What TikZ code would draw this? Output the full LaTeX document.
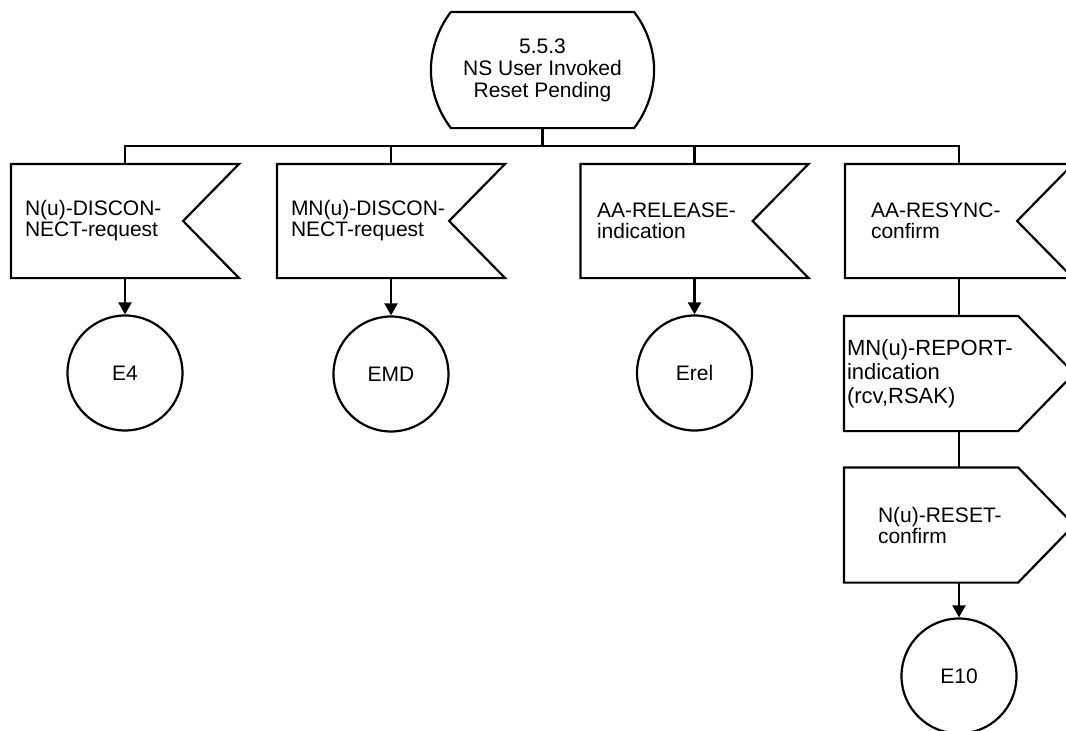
\documentclass[tikz,border=0pt]{standalone}
\usepackage{fontspec}
\setmainfont{Liberation Sans}
\usetikzlibrary{arrows.meta}

\begin{document}
\begin{tikzpicture}[x=1pt, y=-1pt, line width=2.2pt, line join=miter,
  lbl/.style={inner sep=0pt, align=left, anchor=west, font={\fontsize{21}{21}\selectfont}},
  sigbox/.style={inner sep=0pt, minimum width=226pt, minimum height=112pt},
  outbox/.style={inner sep=0pt, minimum width=228pt, minimum height=113pt},
  endstate/.style={circle, draw, inner sep=0pt, minimum size=115pt,
                   font={\fontsize{21}{21}\selectfont}},
  flow/.style={-{Triangle[width=13pt,length=12pt]}}
]
\useasboundingbox (0,0) rectangle (1066,731);
\fill[white] (0,0) rectangle (1066,731);
\clip (0,0) rectangle (1066,731);

% state symbol: straight top and bottom, rounded sides
% (shifts are on the canvas: positive yshift points up)
\node[inner sep=0pt, minimum width=221pt, minimum height=114pt] (st) at (542.5,70) {};
\draw ([xshift=20pt]st.north west) -- ([xshift=-20pt]st.north east)
  .. controls ([xshift=-7pt,yshift=-17pt]st.north east) and ([yshift=20pt]st.east) .. (st.east)
  .. controls ([yshift=-20pt]st.east) and ([xshift=-7pt,yshift=17pt]st.south east) .. ([xshift=-20pt]st.south east)
  -- ([xshift=20pt]st.south west)
  .. controls ([xshift=7pt,yshift=17pt]st.south west) and ([yshift=-20pt]st.west) .. (st.west)
  .. controls ([yshift=20pt]st.west) and ([xshift=7pt,yshift=-17pt]st.north west) .. cycle;
\node[inner sep=0pt, align=center, font={\fontsize{21}{22}\selectfont}] (sttext) at (st.center)
  {5.5.3\\NS User Invoked\\Reset Pending};

% input signals
\node[sigbox] (s1) at (125,221) {};
\node[sigbox] (s2) at (391,221) {};
\node[sigbox] (s3) at (694.5,221) {};
\node[sigbox] (s4) at (959,221) {};
\foreach \s in {s1,s2,s3,s4}{
  \draw (\s.north west) -- (\s.north east) -- ([xshift=-56pt]\s.east)
        -- (\s.south east) -- (\s.south west) -- cycle;
}
\node[lbl] (t1) at ([xshift=13pt]s1.west) {N(u)-DISCON-\\NECT-request};
\node[lbl] (t2) at ([xshift=13pt]s2.west) {MN(u)-DISCON-\\NECT-request};
\node[lbl] (t3) at ([xshift=15.5pt]s3.west) {AA-RELEASE-\\indication};
\node[lbl] (t4) at ([xshift=25pt]s4.west) {AA-RESYNC-\\confirm};

% output signals
\node[outbox] (o1) at (959,373.5) {};
\node[outbox] (o2) at (959,525) {};
\foreach \o in {o1,o2}{
  \draw (\o.north west) -- ([xshift=-56pt]\o.north east) -- (\o.east)
        -- ([xshift=-56pt]\o.south east) -- (\o.south west) -- cycle;
}
\node[lbl, font={\fontsize{22}{24}\selectfont}] (t5) at ([xshift=2pt]o1.west)
  {MN(u)-REPORT-\\indication\\(rcv,RSAK)};
\node[lbl] (t6) at ([xshift=33pt]o2.west) {N(u)-RESET-\\confirm};

% end states
\node[endstate] (e4) at (125,373) {E4};
\node[endstate] (emd) at (391,374) {EMD};
\node[endstate] (erel) at (694.5,373) {Erel};
\node[endstate] (e10) at (959,676) {E10};

% connectors
\coordinate (bus) at (542.5,146);
\draw (st.south) -- (bus);
\draw (s1.north) |- (bus) -| (s4.north);
\draw (s2.north) -- (s2.north |- bus);
\draw (s3.north) -- (s3.north |- bus);
\draw[flow] (s1.south) -- (e4.north);
\draw[flow] (s2.south) -- (emd.north);
\draw[flow] (s3.south) -- (erel.north);
\draw (s4.south) -- (o1.north);
\draw (o1.south) -- (o2.north);
\draw[flow] (o2.south) -- (e10.north);
\end{tikzpicture}
\end{document}
